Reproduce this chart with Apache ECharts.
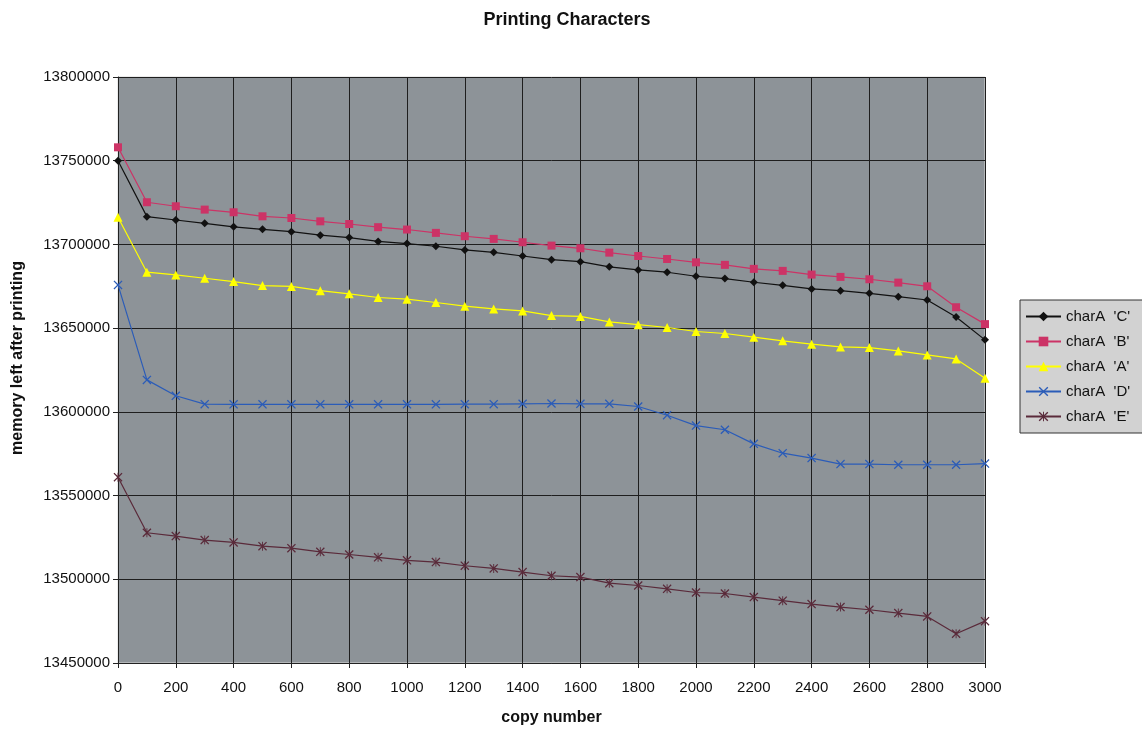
<!DOCTYPE html>
<html>
<head>
<meta charset="utf-8">
<script src="https://cdn.jsdelivr.net/npm/echarts@6/dist/echarts.min.js"></script>
<style>html,body{margin:0;padding:0;background:#fff}#c{width:1142px;height:729px}</style>
</head>
<body>
<div id="c"></div>
<script>
const copies = [0,100,200,300,400,500,600,700,800,900,1000,1100,1200,1300,1400,1500,1600,1700,1800,1900,2000,2100,2200,2300,2400,2500,2600,2700,2800,2900,3000];
const charC = [13750000,13716600,13714600,13712600,13710500,13709000,13707600,13705500,13704100,13701800,13700500,13698900,13696700,13695300,13693100,13690900,13689700,13686600,13684800,13683400,13681000,13679600,13677400,13675600,13673400,13672400,13670800,13668800,13666800,13656600,13643000];
const charB = [13758000,13725200,13722800,13720800,13719200,13716800,13715800,13713800,13712200,13710300,13708900,13706900,13704900,13703300,13701300,13699300,13697700,13695100,13693100,13691300,13689300,13687800,13685400,13684200,13682000,13680600,13679200,13677200,13675000,13662500,13652400];
const charA = [13716200,13683400,13681800,13679800,13677800,13675400,13674900,13672400,13670500,13668300,13667300,13665300,13663100,13661500,13660300,13657500,13657000,13653700,13652100,13650400,13648000,13646800,13644600,13642400,13640400,13638800,13638400,13636400,13634000,13631600,13620100];
const charD = [13675800,13619100,13609600,13604600,13604500,13604500,13604500,13604500,13604500,13604500,13604500,13604500,13604600,13604600,13604800,13605000,13604800,13604800,13603200,13598000,13591800,13589300,13580900,13575300,13572400,13568800,13568800,13568400,13568400,13568400,13569100];
const charE = [13561000,13527800,13525800,13523400,13522000,13519800,13518600,13516400,13514800,13513100,13511300,13510300,13508100,13506500,13504300,13502100,13501300,13497700,13496300,13494300,13492100,13491500,13489400,13487200,13485200,13483400,13481800,13479800,13477800,13467500,13475000];
const seriesNames = ["charA  'C'","charA  'B'","charA  'A'","charA  'D'","charA  'E'"];

const xSym = 'path://M0,1L1,0L5,4L9,0L10,1L6,5L10,9L9,10L5,6L1,10L0,9L4,5Z';
const starSym = 'path://M0,1L1,0L5,4L9,0L10,1L6,5L10,9L9,10L5,6L1,10L0,9L4,5Z M4.5,0L5.5,0L5.5,10L4.5,10Z';

function pairs(arr){ return copies.map((c,i)=>[c,arr[i]]); }

const defs = [
  {name: seriesNames[0], data: charC, color: '#111111', symbol: 'diamond', size: 8},
  {name: seriesNames[1], data: charB, color: '#cc3366', symbol: 'rect', size: 8},
  {name: seriesNames[2], data: charA, color: '#ffff00', symbol: 'triangle', size: 9},
  {name: seriesNames[3], data: charD, color: '#2b5cb8', symbol: xSym, size: 9},
  {name: seriesNames[4], data: charE, color: '#5a2a3a', symbol: starSym, size: 9}
];

const FONT = 'Liberation Sans, Arial, sans-serif';
const chart = echarts.init(document.getElementById('c'), null, {renderer: 'canvas'});
chart.setOption({
  animation: false,
  backgroundColor: '#ffffff',
  title: {
    text: 'Printing Characters',
    left: 562, top: 6, textAlign: 'center',
    textStyle: {fontFamily: FONT, fontSize: 18, fontWeight: 'bold', color: '#111'}
  },
  legend: {
    orient: 'vertical',
    left: 1020, top: 300,
    width: 130,
    padding: [9, 20, 9, 5],
    itemGap: 10,
    itemWidth: 35, itemHeight: 12,
    backgroundColor: '#d2d2d2',
    borderColor: '#333', borderWidth: 1,
    textStyle: {fontFamily: FONT, fontSize: 15, color: '#111'},
    data: seriesNames
  },
  grid: {left: 118, right: 157, top: 77, bottom: 66, outerBoundsMode: 'none', containLabel: false, show: true, backgroundColor: '#8d9398', borderColor: '#d8d8d8', borderWidth: 1},
  xAxis: {
    type: 'value', min: 0, max: 3000, interval: 200,
    name: 'copy number', nameLocation: 'middle', nameGap: 47,
    nameTextStyle: {fontFamily: FONT, fontSize: 16, fontWeight: 'bold', color: '#111'},
    axisLine: {show: true, lineStyle: {color: '#222', width: 1}},
    axisTick: {show: true, length: 5, lineStyle: {color: '#222'}},
    axisLabel: {fontFamily: FONT, fontSize: 15, color: '#111', margin: 17, formatter: v => String(v)},
    splitLine: {show: true, lineStyle: {color: '#1e1e1e', width: 1}}
  },
  yAxis: {
    type: 'value', min: 13450000, max: 13800000, interval: 50000,
    name: 'memory left after printing', nameLocation: 'middle', nameGap: 92,
    nameTextStyle: {fontFamily: FONT, fontSize: 16, fontWeight: 'bold', color: '#111', padding: [0, 0, 0, 24]},
    axisLine: {show: true, lineStyle: {color: '#222', width: 1}},
    axisTick: {show: true, length: 5, lineStyle: {color: '#222'}},
    axisLabel: {fontFamily: FONT, fontSize: 15, color: '#111', margin: 8, formatter: v => String(v)},
    splitLine: {show: true, lineStyle: {color: '#1e1e1e', width: 1}}
  },
  series: defs.map(d => ({
    name: d.name, type: 'line', data: pairs(d.data),
    symbol: d.symbol, symbolSize: d.size, showAllSymbol: true,
    lineStyle: {color: d.color, width: 1.2},
    itemStyle: {color: d.color},
    emphasis: {disabled: true}
  }))
});
</script>
</body>
</html>
